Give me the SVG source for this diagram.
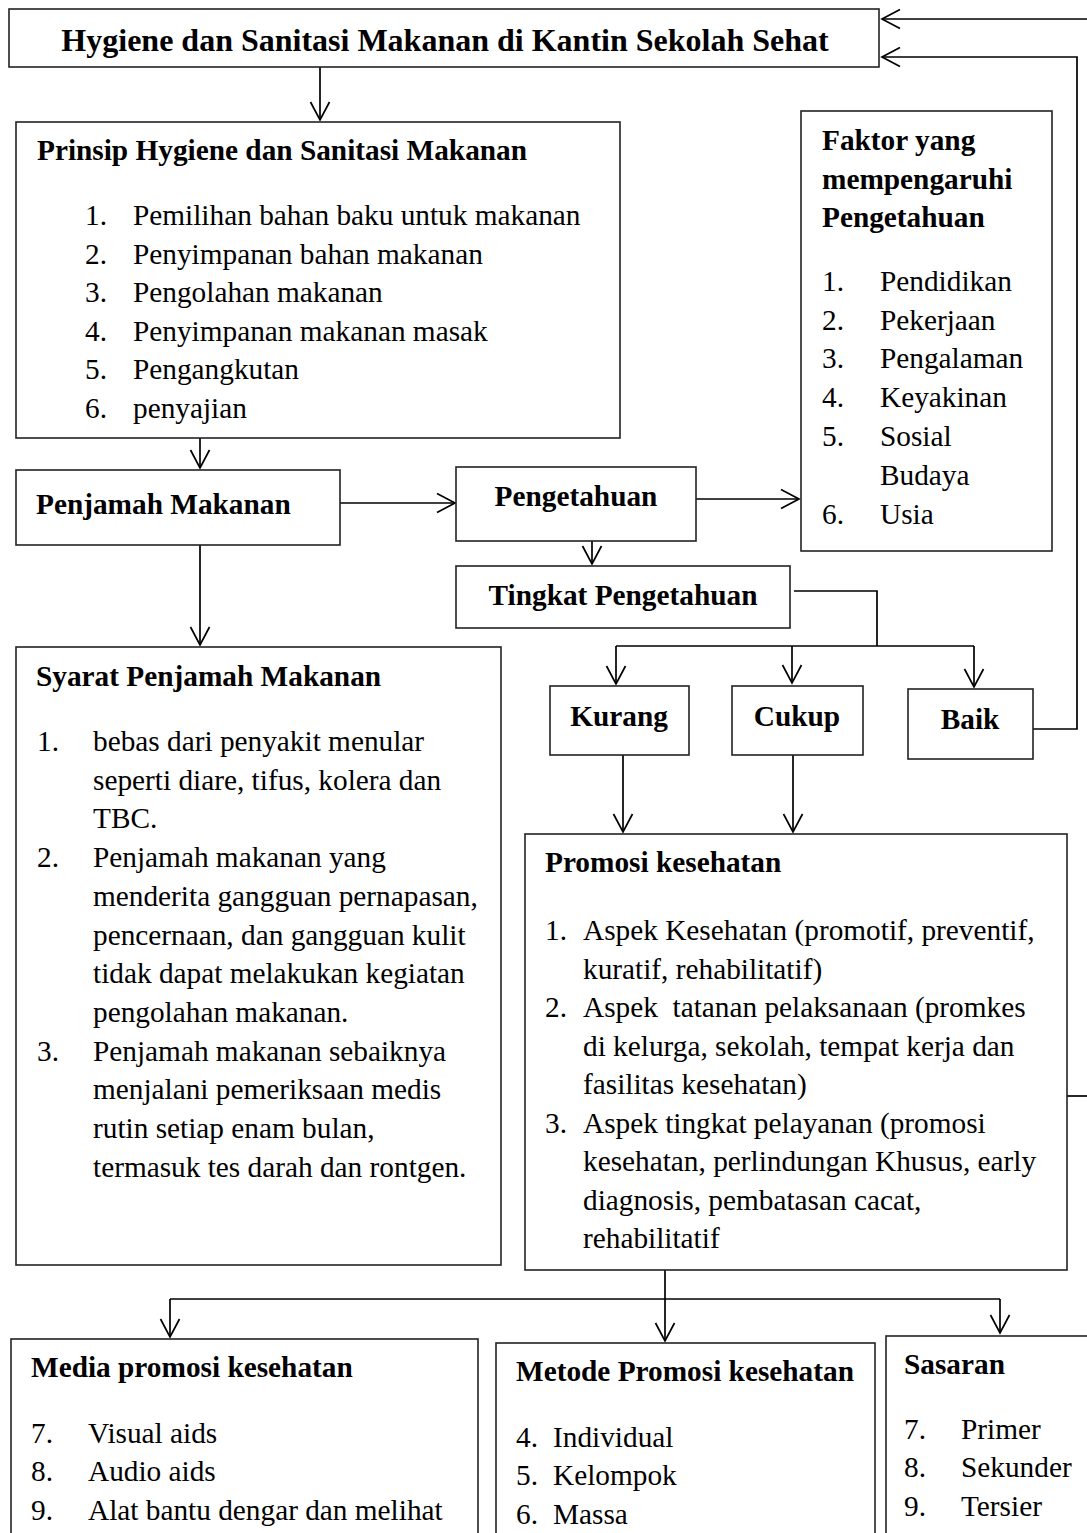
<svg xmlns="http://www.w3.org/2000/svg" width="1087" height="1533" viewBox="0 0 1087 1533">
<style>
.box{fill:#fff;stroke:#222;stroke-width:1.6}
.ln{fill:none;stroke:#000;stroke-width:1.7}
.arr{marker-end:url(#ah)}
text{font-family:"Liberation Serif","Times New Roman",serif;fill:#000;font-size:29.3px}
.b{font-weight:bold}
.t{font-size:32px;font-weight:bold}
.m{text-anchor:middle}
</style>
<defs>
<marker id="ah" markerUnits="userSpaceOnUse" markerWidth="40" markerHeight="40" viewBox="-20 -20 40 40" refX="0" refY="0" orient="auto" overflow="visible">
<path d="M-18,-9.5 L0,0 L-18,9.5" fill="none" stroke="#000" stroke-width="1.7"/>
</marker>
</defs>
<rect width="1087" height="1533" fill="#fff"/>

<g id="connectors">
<path class="ln arr" d="M320,67 V120"/>
<path class="ln arr" d="M200,438 V468"/>
<path class="ln arr" d="M340,503 H455"/>
<path class="ln arr" d="M696,499 H799"/>
<path class="ln arr" d="M592,541 V564"/>
<path class="ln arr" d="M200,545 V645"/>
<path class="ln" d="M794,591 H877 V646"/>
<path class="ln" d="M616,646 H974"/>
<path class="ln arr" d="M616,646 V684"/>
<path class="ln arr" d="M792,646 V683"/>
<path class="ln arr" d="M974,646 V687"/>
<path class="ln arr" d="M1033,729 H1077 V57 H882"/>
<path class="ln arr" d="M1087,19 H882"/>
<path class="ln arr" d="M623,755 V832"/>
<path class="ln arr" d="M793,755 V832"/>
<path class="ln" d="M1063,1096 H1087"/>
<path class="ln arr" d="M665,1270 V1341"/>
<path class="ln" d="M170,1299 H1000"/>
<path class="ln arr" d="M170,1299 V1337"/>
<path class="ln arr" d="M1000,1299 V1333"/>
</g>

<g id="node-title">
<rect class="box" x="9" y="9" width="870" height="58"/>
<text class="t m" x="445" y="51">Hygiene dan Sanitasi Makanan di Kantin Sekolah Sehat</text>
</g>

<g id="node-prinsip">
<rect class="box" x="16" y="122" width="604" height="316"/>
<text class="b" x="37" y="160">Prinsip Hygiene dan Sanitasi Makanan</text>
<text x="85" y="225">1.</text><text x="133" y="225">Pemilihan bahan baku untuk makanan</text>
<text x="85" y="263.5">2.</text><text x="133" y="263.5">Penyimpanan bahan makanan</text>
<text x="85" y="302">3.</text><text x="133" y="302">Pengolahan makanan</text>
<text x="85" y="340.5">4.</text><text x="133" y="340.5">Penyimpanan makanan masak</text>
<text x="85" y="379">5.</text><text x="133" y="379">Pengangkutan</text>
<text x="85" y="417.5">6.</text><text x="133" y="417.5">penyajian</text>
</g>

<g id="node-penjamah">
<rect class="box" x="16" y="470" width="324" height="75"/>
<text class="b" x="36" y="514">Penjamah Makanan</text>
</g>

<g id="node-pengetahuan">
<rect class="box" x="456" y="467" width="240" height="74"/>
<text class="b m" x="576" y="506">Pengetahuan</text>
</g>

<g id="node-faktor">
<rect class="box" x="801" y="111" width="251" height="440"/>
<text class="b" x="822" y="150">Faktor yang</text>
<text class="b" x="822" y="189">mempengaruhi</text>
<text class="b" x="822" y="227">Pengetahuan</text>
<text x="822" y="291">1.</text><text x="880" y="291">Pendidikan</text>
<text x="822" y="330">2.</text><text x="880" y="330">Pekerjaan</text>
<text x="822" y="368">3.</text><text x="880" y="368">Pengalaman</text>
<text x="822" y="407">4.</text><text x="880" y="407">Keyakinan</text>
<text x="822" y="446">5.</text><text x="880" y="446">Sosial</text>
<text x="880" y="485">Budaya</text>
<text x="822" y="524">6.</text><text x="880" y="524">Usia</text>
</g>

<g id="node-tingkat">
<rect class="box" x="456" y="566" width="334" height="62"/>
<text class="b m" x="623" y="605">Tingkat Pengetahuan</text>
</g>

<g id="node-kurang">
<rect class="box" x="550" y="686" width="139" height="69"/>
<text class="b m" x="619" y="726">Kurang</text>
</g>

<g id="node-cukup">
<rect class="box" x="732" y="686" width="131" height="69"/>
<text class="b m" x="797" y="726">Cukup</text>
</g>

<g id="node-baik">
<rect class="box" x="908" y="689" width="125" height="70"/>
<text class="b m" x="970" y="729">Baik</text>
</g>

<g id="node-syarat">
<rect class="box" x="16" y="647" width="485" height="618"/>
<text class="b" x="36" y="686">Syarat Penjamah Makanan</text>
<text x="37" y="751">1.</text><text x="93" y="751">bebas dari penyakit menular</text>
<text x="93" y="789.7">seperti diare, tifus, kolera dan</text>
<text x="93" y="828.4">TBC.</text>
<text x="37" y="867.1">2.</text><text x="93" y="867.1">Penjamah makanan yang</text>
<text x="93" y="905.8">menderita gangguan pernapasan,</text>
<text x="93" y="944.5">pencernaan, dan gangguan kulit</text>
<text x="93" y="983.2">tidak dapat melakukan kegiatan</text>
<text x="93" y="1021.9">pengolahan makanan.</text>
<text x="37" y="1060.6">3.</text><text x="93" y="1060.6">Penjamah makanan sebaiknya</text>
<text x="93" y="1099.3">menjalani pemeriksaan medis</text>
<text x="93" y="1138">rutin setiap enam bulan,</text>
<text x="93" y="1176.7">termasuk tes darah dan rontgen.</text>
</g>

<g id="node-promosi">
<rect class="box" x="525" y="834" width="542" height="436"/>
<text class="b" x="545" y="872">Promosi kesehatan</text>
<text x="545" y="940">1.</text><text x="583" y="940">Aspek Kesehatan (promotif, preventif,</text>
<text x="583" y="978.5">kuratif, rehabilitatif)</text>
<text x="545" y="1017">2.</text><text x="583" y="1017" style="white-space:pre">Aspek  tatanan pelaksanaan (promkes</text>
<text x="583" y="1055.5">di kelurga, sekolah, tempat kerja dan</text>
<text x="583" y="1094">fasilitas kesehatan)</text>
<text x="545" y="1132.5">3.</text><text x="583" y="1132.5">Aspek tingkat pelayanan (promosi</text>
<text x="583" y="1171">kesehatan, perlindungan Khusus, early</text>
<text x="583" y="1209.5">diagnosis, pembatasan cacat,</text>
<text x="583" y="1248">rehabilitatif</text>
</g>

<g id="node-media">
<rect class="box" x="11" y="1339" width="467" height="210"/>
<text class="b" x="31" y="1377">Media promosi kesehatan</text>
<text x="31" y="1443">7.</text><text x="88" y="1443">Visual aids</text>
<text x="31" y="1481">8.</text><text x="88" y="1481">Audio aids</text>
<text x="31" y="1520">9.</text><text x="88" y="1520">Alat bantu dengar dan melihat</text>
</g>

<g id="node-metode">
<rect class="box" x="496" y="1343" width="379" height="210"/>
<text class="b" x="516" y="1381">Metode Promosi kesehatan</text>
<text x="516" y="1447">4.</text><text x="553" y="1447">Individual</text>
<text x="516" y="1485">5.</text><text x="553" y="1485">Kelompok</text>
<text x="516" y="1524">6.</text><text x="553" y="1524">Massa</text>
</g>

<g id="node-sasaran">
<rect class="box" x="886" y="1336" width="220" height="220"/>
<text class="b" x="904" y="1374">Sasaran</text>
<text x="904" y="1439">7.</text><text x="961" y="1439">Primer</text>
<text x="904" y="1477">8.</text><text x="961" y="1477">Sekunder</text>
<text x="904" y="1516">9.</text><text x="961" y="1516">Tersier</text>
</g>
</svg>
